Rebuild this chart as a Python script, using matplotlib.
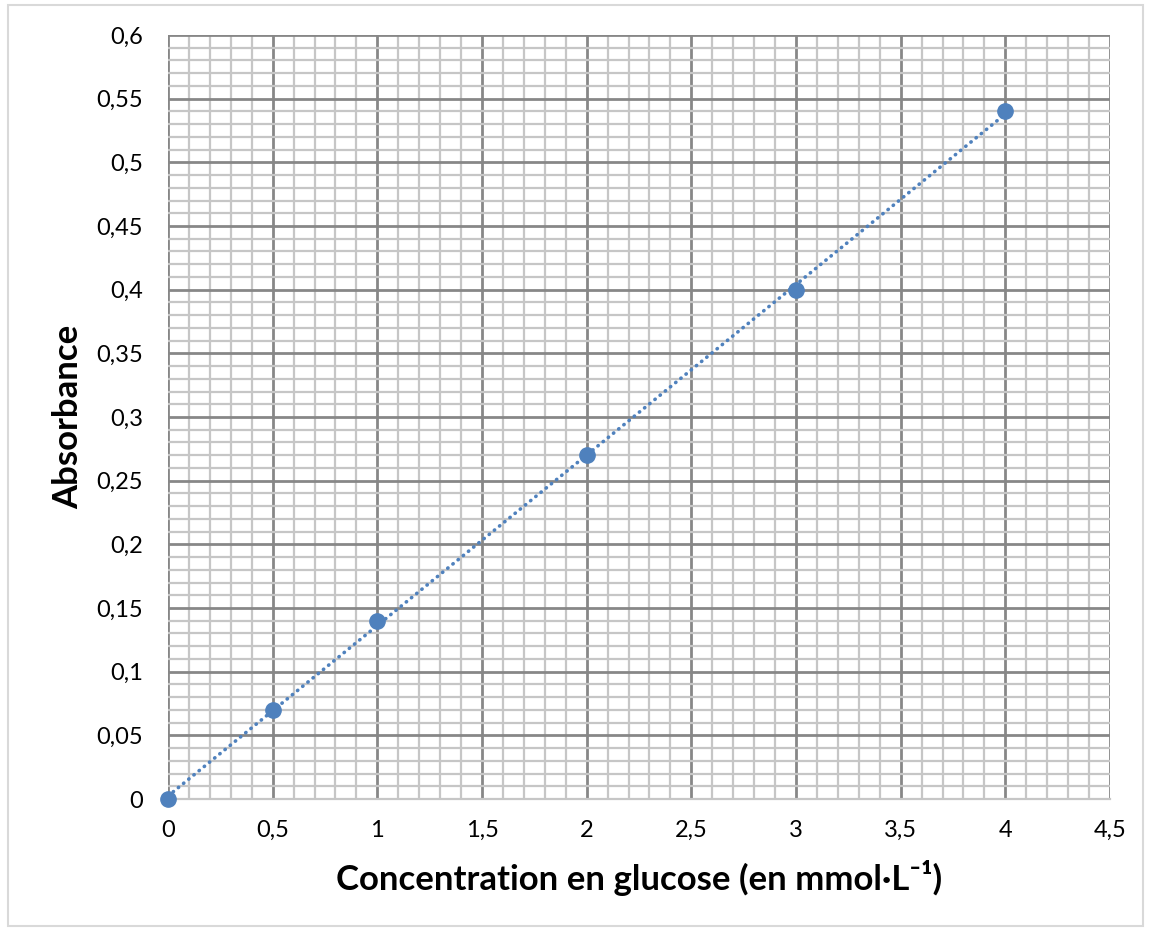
import matplotlib
matplotlib.use("Agg")
import matplotlib.pyplot as plt
import numpy as np
from matplotlib.ticker import MultipleLocator, FuncFormatter
from matplotlib.patches import Rectangle

# Data
concentration = [0, 0.5, 1, 2, 3, 4]
absorbance = [0, 0.07, 0.14, 0.27, 0.40, 0.54]
x_label = "Concentration en glucose (en mmol·L⁻¹)"
y_label = "Absorbance"

plt.rcParams['font.family'] = ['Lato', 'DejaVu Sans']

fig = plt.figure(figsize=(11.52, 9.32), dpi=100)
ax = fig.add_axes([168/1152, 1-799/932, (1110-168)/1152, (799-35)/932])

ax.set_xlim(0, 4.5)
ax.set_ylim(0, 0.6)

ax.xaxis.set_major_locator(MultipleLocator(0.5))
ax.xaxis.set_minor_locator(MultipleLocator(0.1))
ax.yaxis.set_major_locator(MultipleLocator(0.05))
ax.yaxis.set_minor_locator(MultipleLocator(0.01))

fmt = FuncFormatter(lambda v, p: ("%g" % round(v, 4)).replace('.', ','))
ax.xaxis.set_major_formatter(fmt)
ax.yaxis.set_major_formatter(fmt)

ax.grid(which='minor', color='#c6c6c6', linewidth=1.6)
ax.grid(which='major', color='#878787', linewidth=2.0)
ax.set_axisbelow(True)

for s in ax.spines.values():
    s.set_visible(False)
ax.spines['bottom'].set_visible(True)
ax.spines['bottom'].set_color('#c6c6c6')
ax.spines['bottom'].set_linewidth(1.6)

ax.tick_params(which='both', length=0)
ax.tick_params(axis='x', labelsize=17, pad=15, colors='black')
ax.tick_params(axis='y', labelsize=17, pad=18, colors='black')

# trendline (linear fit)
slope, intercept = np.polyfit(concentration, absorbance, 1)
xt = np.array([min(concentration), max(concentration)])
ax.plot(xt, slope*xt + intercept, color='#4F81BD', linewidth=2.6,
        linestyle=(0, (0.1, 1.75)), dash_capstyle='round', zorder=3)

ax.plot(concentration, absorbance, 'o', color='#4F81BD', markersize=11, zorder=4,
        clip_on=False)

ax.set_xlabel(x_label, fontsize=25, fontweight='bold', labelpad=14)
ax.set_ylabel(y_label, fontsize=25, fontweight='bold', labelpad=9)

fig.patches.append(Rectangle((8/1152, 1-926/932), (1143-8)/1152, (926-5)/932,
                             transform=fig.transFigure, fill=False,
                             edgecolor='#d9d9d9', linewidth=1.5))

fig.savefig("out.png", dpi=100)
